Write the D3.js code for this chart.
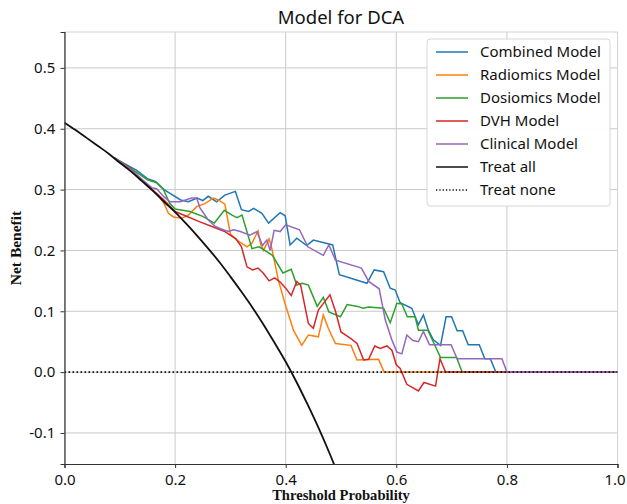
<!DOCTYPE html>
<html>
<head>
<meta charset="utf-8">
<script src="https://cdn.jsdelivr.net/npm/d3@7"></script>
<style>
  html, body { margin: 0; padding: 0; background: #fff; }
  svg { display: block; }
</style>
</head>
<body>
<svg id="chart" width="627" height="504"></svg>
<script>
// ---------------- DATA ----------------
const seriesNames = ["Combined Model", "Radiomics Model", "Dosiomics Model", "DVH Model", "Clinical Model"];
const xTicks = [0.0, 0.2, 0.4, 0.6, 0.8, 1.0];
const yTicks = [-0.1, 0.0, 0.1, 0.2, 0.3, 0.4, 0.5];

// [threshold, net benefit]
const combined = [[0.09,0.352],[0.12,0.337],[0.13,0.332],[0.15,0.318],[0.165,0.313],[0.18,0.300],[0.21,0.283],[0.224,0.280],[0.24,0.286],[0.25,0.282],[0.26,0.289],[0.275,0.280],[0.29,0.291],[0.309,0.297],[0.32,0.267],[0.333,0.264],[0.342,0.269],[0.357,0.261],[0.369,0.245],[0.39,0.262],[0.399,0.257],[0.408,0.209],[0.42,0.220],[0.438,0.208],[0.45,0.217],[0.485,0.209],[0.497,0.160],[0.547,0.146],[0.56,0.168],[0.577,0.165],[0.589,0.138],[0.598,0.135],[0.607,0.114],[0.628,0.105],[0.64,0.078],[0.649,0.094],[0.658,0.069],[0.667,0.053],[0.68,0.044],[0.69,0.091],[0.70,0.091],[0.71,0.068],[0.72,0.068],[0.73,0.045],[0.75,0.045],[0.76,0.022],[0.77,0.022],[0.78,0],[1.0,0]];
const radiomics = [[0.09,0.352],[0.12,0.333],[0.15,0.307],[0.17,0.291],[0.18,0.277],[0.188,0.261],[0.197,0.255],[0.212,0.253],[0.224,0.258],[0.239,0.272],[0.254,0.277],[0.269,0.286],[0.278,0.283],[0.29,0.276],[0.30,0.227],[0.312,0.217],[0.33,0.206],[0.339,0.212],[0.35,0.232],[0.355,0.209],[0.36,0.200],[0.37,0.219],[0.375,0.203],[0.387,0.150],[0.399,0.112],[0.414,0.069],[0.429,0.044],[0.441,0.061],[0.459,0.058],[0.468,0.094],[0.477,0.072],[0.49,0.047],[0.518,0.044],[0.529,0.020],[0.568,0.021],[0.578,0],[1.0,0]];
const dosiomics = [[0.09,0.352],[0.12,0.335],[0.15,0.316],[0.167,0.311],[0.179,0.300],[0.19,0.278],[0.20,0.268],[0.227,0.264],[0.25,0.256],[0.271,0.245],[0.289,0.266],[0.303,0.258],[0.312,0.254],[0.321,0.258],[0.339,0.203],[0.352,0.206],[0.376,0.192],[0.395,0.163],[0.41,0.169],[0.42,0.143],[0.43,0.146],[0.441,0.143],[0.457,0.108],[0.468,0.123],[0.478,0.099],[0.499,0.091],[0.511,0.111],[0.53,0.108],[0.54,0.105],[0.55,0.107],[0.577,0.105],[0.589,0.081],[0.601,0.113],[0.61,0.112],[0.62,0.091],[0.634,0.091],[0.64,0.069],[0.657,0.069],[0.68,0.024],[0.709,0.024],[0.719,0],[1.0,0]];
const dvh = [[0.09,0.352],[0.12,0.334],[0.15,0.306],[0.18,0.283],[0.20,0.264],[0.245,0.247],[0.27,0.238],[0.29,0.231],[0.31,0.219],[0.32,0.206],[0.33,0.173],[0.34,0.168],[0.35,0.171],[0.36,0.162],[0.37,0.150],[0.38,0.155],[0.39,0.148],[0.40,0.138],[0.41,0.126],[0.42,0.149],[0.427,0.143],[0.441,0.080],[0.45,0.072],[0.459,0.102],[0.48,0.127],[0.49,0.100],[0.50,0.066],[0.518,0.055],[0.529,0.047],[0.541,0.020],[0.55,0.021],[0.561,0.043],[0.571,0.039],[0.583,0.043],[0.592,0.036],[0.60,0.012],[0.607,0.006],[0.619,-0.020],[0.64,-0.031],[0.65,-0.017],[0.671,-0.023],[0.679,0.022],[0.689,0],[1.0,0]];
const clinical = [[0.09,0.352],[0.12,0.333],[0.158,0.303],[0.167,0.301],[0.18,0.288],[0.191,0.280],[0.209,0.280],[0.23,0.286],[0.239,0.286],[0.245,0.270],[0.26,0.250],[0.272,0.240],[0.281,0.236],[0.296,0.231],[0.306,0.234],[0.318,0.231],[0.335,0.225],[0.348,0.231],[0.358,0.208],[0.366,0.217],[0.372,0.200],[0.379,0.233],[0.39,0.231],[0.40,0.242],[0.425,0.234],[0.44,0.206],[0.468,0.192],[0.478,0.209],[0.49,0.184],[0.537,0.171],[0.55,0.149],[0.569,0.137],[0.58,0.086],[0.592,0.053],[0.601,0.033],[0.61,0.030],[0.619,0.061],[0.63,0.052],[0.64,0.050],[0.649,0.067],[0.66,0.045],[0.699,0.045],[0.71,0.022],[0.791,0.022],[0.80,0],[1.0,0]];
const treatAll = [[0.00,0.410],[0.02,0.398],[0.04,0.385],[0.06,0.372],[0.08,0.359],[0.10,0.344],[0.12,0.330],[0.14,0.314],[0.16,0.298],[0.18,0.280],[0.20,0.263],[0.22,0.244],[0.24,0.224],[0.26,0.203],[0.28,0.181],[0.30,0.157],[0.32,0.132],[0.34,0.106],[0.36,0.078],[0.38,0.048],[0.40,0.017],[0.42,-0.017],[0.44,-0.054],[0.46,-0.093],[0.48,-0.135],[0.50,-0.180]];
const treatNone = [[0.0,0],[1.0,0]];

// ---------------- LAYOUT ----------------
const W = 627, H = 504;
const m = { left: 64.5, right: 9.5, top: 32, bottom: 40 };
const x = d3.scaleLinear().domain([0, 1]).range([m.left, W - m.right]);
const y = d3.scaleLinear().domain([-0.151, 0.559]).range([H - m.bottom, m.top]);

const svg = d3.select("#chart");
const font = "'Noto Sans', 'Open Sans', sans-serif";
const serif = "'Liberation Serif', 'Times New Roman', serif";

svg.append("defs").append("clipPath").attr("id", "clip")
  .append("rect").attr("x", x(0)).attr("y", y(0.559))
  .attr("width", x(1) - x(0)).attr("height", y(-0.151) - y(0.559));

// grid
const grid = svg.append("g");
grid.selectAll(".gx").data(xTicks).join("line")
  .attr("x1", d => x(d)).attr("x2", d => x(d))
  .attr("y1", y(0.559)).attr("y2", y(-0.151))
  .attr("stroke", "#c9c9c9").attr("stroke-width", 1);
grid.selectAll(".gy").data(yTicks).join("line")
  .attr("x1", x(0)).attr("x2", x(1))
  .attr("y1", d => y(d)).attr("y2", d => y(d))
  .attr("stroke", "#c9c9c9").attr("stroke-width", 1);

// frame top/right
svg.append("line").attr("x1", x(0)).attr("x2", x(1)).attr("y1", y(0.559)).attr("y2", y(0.559)).attr("stroke", "#d4d4d4");
svg.append("line").attr("x1", x(1)).attr("x2", x(1)).attr("y1", y(0.559)).attr("y2", y(-0.151)).attr("stroke", "#d4d4d4");

// series
const colors = ["#1f77b4", "#ff7f0e", "#2ca02c", "#d62728", "#9467bd"];
const seriesData = [combined, radiomics, dosiomics, dvh, clinical];
const line = d3.line().x(d => x(d[0])).y(d => y(d[1]));

const plot = svg.append("g").attr("clip-path", "url(#clip)");
seriesData.forEach((s, i) => {
  plot.append("path").datum(s).attr("d", line)
    .attr("fill", "none").attr("stroke", colors[i]).attr("stroke-width", 1.5)
    .attr("stroke-linejoin", "miter");
});
plot.append("path").datum(treatAll).attr("d", d3.line().curve(d3.curveMonotoneX).x(d => x(d[0])).y(d => y(d[1])))
  .attr("fill", "none").attr("stroke", "#111").attr("stroke-width", 1.8);
plot.append("path").datum(treatNone).attr("d", line)
  .attr("fill", "none").attr("stroke", "#111").attr("stroke-width", 1.6)
  .attr("stroke-dasharray", "1.6,2.4");

// axes
const fmt = d => d.toFixed(1);
const xAxis = svg.append("g").attr("transform", `translate(0,${y(-0.151)})`)
  .call(d3.axisBottom(x).tickValues(xTicks).tickFormat(fmt).tickSizeOuter(0).tickSize(4));
const yAxis = svg.append("g").attr("transform", `translate(${x(0)},0)`)
  .call(d3.axisLeft(y).tickValues(yTicks).tickFormat(fmt).tickSizeOuter(0).tickSize(4));
[xAxis, yAxis].forEach(a => {
  a.select(".domain").attr("stroke", "#333").attr("stroke-width", 1.2);
  a.selectAll(".tick line").attr("stroke", "#333");
  a.selectAll(".tick text").attr("font-family", font).attr("font-size", 15).attr("fill", "#111");
});
xAxis.selectAll(".tick text").attr("dy", "0.9em");
xAxis.selectAll(".tick text").filter(d => d === 1).attr("dx", "-0.2em");
yAxis.selectAll(".tick text").attr("dx", "-0.15em");

// title
svg.append("text").attr("x", (x(0) + x(1)) / 2).attr("y", 24)
  .attr("text-anchor", "middle").attr("font-family", font).attr("font-size", 18.5).attr("fill", "#111")
  .text("Model for DCA");

// axis labels
svg.append("text").attr("x", (x(0) + x(1)) / 2).attr("y", 500)
  .attr("text-anchor", "middle").attr("font-family", serif)
  .attr("font-weight", "bold").attr("font-size", 14.6).attr("fill", "#111")
  .text("Threshold Probability");
svg.append("text").attr("transform", `translate(21,${(y(0.559) + y(-0.151)) / 2}) rotate(-90)`)
  .attr("text-anchor", "middle").attr("font-family", serif)
  .attr("font-weight", "bold").attr("font-size", 15.5).attr("fill", "#111")
  .text("Net Benefit");

// legend
const legendItems = seriesNames.map((n, i) => ({ name: n, color: colors[i], dash: null }))
  .concat([{ name: "Treat all", color: "#111", dash: null }, { name: "Treat none", color: "#111", dash: "1.3,2" }]);
const lg = svg.append("g");
lg.append("rect").attr("x", 427).attr("y", 39).attr("width", 183).attr("height", 167)
  .attr("rx", 3).attr("fill", "#fff").attr("fill-opacity", 0.95).attr("stroke", "#d6d6d6");
legendItems.forEach((it, i) => {
  const cy = 52 + i * 23;
  lg.append("line").attr("x1", 436).attr("x2", 468).attr("y1", cy).attr("y2", cy)
    .attr("stroke", it.color).attr("stroke-width", it.dash ? 1.3 : 1.5)
    .attr("stroke-dasharray", it.dash);
  lg.append("text").attr("x", 480).attr("y", cy).attr("dy", "0.35em")
    .attr("font-family", font).attr("font-size", 15).attr("fill", "#111").text(it.name);
});
</script>
</body>
</html>
